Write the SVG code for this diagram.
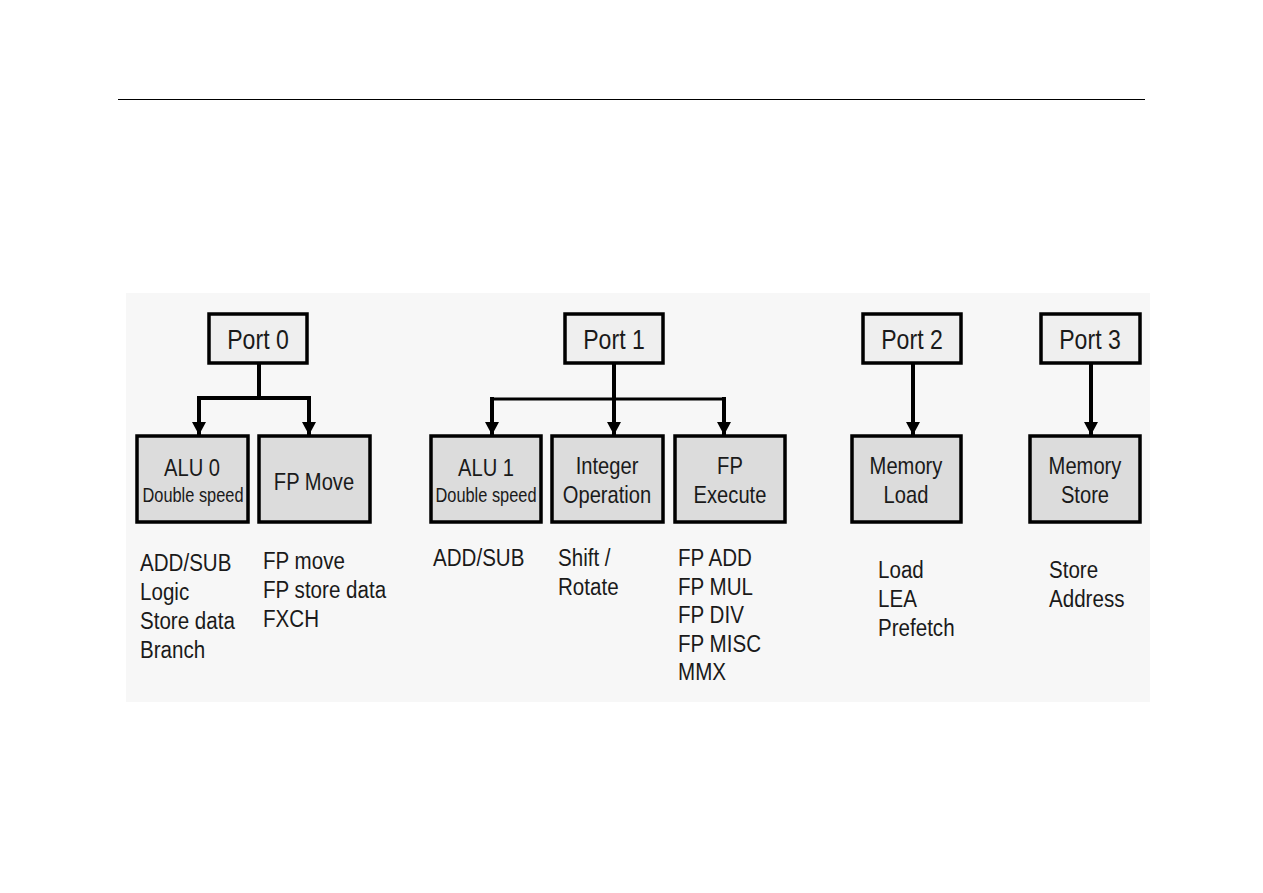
<svg xmlns="http://www.w3.org/2000/svg" width="1263" height="893" viewBox="0 0 1263 893">
<defs>
<style>
.port{fill:#efefef;stroke:#000;stroke-width:3.5}
.unit{fill:#dcdcdc;stroke:#000;stroke-width:3.5}
text{font-family:"Liberation Sans",Arial,sans-serif;fill:#1a1a1a}
.pl{font-size:27.5px;text-anchor:middle}
.ul{font-size:24px;text-anchor:middle}
.us{font-size:19.5px;text-anchor:middle}
.ll{font-size:24.5px}
.c{fill:none;stroke:#000;stroke-width:4}
</style>
<marker id="ah" viewBox="0 0 13 14" refX="13" refY="7" markerWidth="13" markerHeight="14" markerUnits="userSpaceOnUse" orient="auto">
<path d="M0,0 L13,7 L0,14 z" fill="#000"/>
</marker>
</defs>
<rect width="1263" height="893" fill="#fff"/>
<line x1="118" y1="99.5" x2="1145" y2="99.5" stroke="#000" stroke-width="1"/>
<rect x="126" y="293" width="1024" height="409" fill="#f7f7f7"/>

<g id="connectors">
<path class="c" d="M259,362 V398"/>
<path class="c" d="M197,398 H311"/>
<path class="c" d="M199,396 V435" marker-end="url(#ah)"/>
<path class="c" d="M309,396 V435" marker-end="url(#ah)"/>
<path class="c" d="M614,362 V399"/>
<path class="c" d="M490,399 H726" style="stroke-width:3"/>
<path class="c" d="M492,397 V435" marker-end="url(#ah)"/>
<path class="c" d="M614,397 V435" marker-end="url(#ah)"/>
<path class="c" d="M724,397 V435" marker-end="url(#ah)"/>
<path class="c" d="M913,362 V435" marker-end="url(#ah)"/>
<path class="c" d="M1091,362 V435" marker-end="url(#ah)"/>
</g>

<g id="port0"><rect class="port" x="209" y="314" width="98" height="49"/><text class="pl" transform="translate(258 349) scale(0.84 1)">Port 0</text></g>
<g id="port1"><rect class="port" x="565" y="314" width="98" height="49"/><text class="pl" transform="translate(614 349) scale(0.84 1)">Port 1</text></g>
<g id="port2"><rect class="port" x="863" y="314" width="98" height="49"/><text class="pl" transform="translate(912 349) scale(0.84 1)">Port 2</text></g>
<g id="port3"><rect class="port" x="1041" y="314" width="99" height="49"/><text class="pl" transform="translate(1090 349) scale(0.84 1)">Port 3</text></g>

<g id="alu0"><rect class="unit" x="137" y="436" width="111" height="86"/><text class="ul" transform="translate(192 476) scale(0.84 1)">ALU 0</text><text class="us" transform="translate(193 502) scale(0.84 1)">Double speed</text></g>
<g id="fpmove"><rect class="unit" x="259" y="436" width="111" height="86"/><text class="ul" transform="translate(314 490) scale(0.84 1)">FP Move</text></g>
<g id="alu1"><rect class="unit" x="431" y="436" width="110" height="86"/><text class="ul" transform="translate(486 476) scale(0.84 1)">ALU 1</text><text class="us" transform="translate(486 502) scale(0.84 1)">Double speed</text></g>
<g id="intop"><rect class="unit" x="552" y="436" width="111" height="86"/><text class="ul" transform="translate(607 474) scale(0.84 1)">Integer</text><text class="ul" transform="translate(607 503) scale(0.84 1)">Operation</text></g>
<g id="fpexec"><rect class="unit" x="675" y="436" width="110" height="86"/><text class="ul" transform="translate(730 474) scale(0.84 1)">FP</text><text class="ul" transform="translate(730 503) scale(0.84 1)">Execute</text></g>
<g id="memload"><rect class="unit" x="852" y="436" width="109" height="86"/><text class="ul" transform="translate(906 474) scale(0.84 1)">Memory</text><text class="ul" transform="translate(906 503) scale(0.84 1)">Load</text></g>
<g id="memstore"><rect class="unit" x="1030" y="436" width="110" height="86"/><text class="ul" transform="translate(1085 474) scale(0.84 1)">Memory</text><text class="ul" transform="translate(1085 503) scale(0.84 1)">Store</text></g>

<g id="list-alu0" class="ll">
<text class="ll" transform="translate(140 571) scale(0.84 1)">ADD/SUB</text>
<text class="ll" transform="translate(140 600) scale(0.84 1)">Logic</text>
<text class="ll" transform="translate(140 629) scale(0.84 1)">Store data</text>
<text class="ll" transform="translate(140 658) scale(0.84 1)">Branch</text>
</g>
<g id="list-fpmove">
<text class="ll" transform="translate(263 569) scale(0.84 1)">FP move</text>
<text class="ll" transform="translate(263 598) scale(0.84 1)">FP store data</text>
<text class="ll" transform="translate(263 627) scale(0.84 1)">FXCH</text>
</g>
<g id="list-alu1"><text class="ll" transform="translate(433 566) scale(0.84 1)">ADD/SUB</text></g>
<g id="list-intop">
<text class="ll" transform="translate(558 566) scale(0.84 1)">Shift /</text>
<text class="ll" transform="translate(558 595) scale(0.84 1)">Rotate</text>
</g>
<g id="list-fpexec">
<text class="ll" transform="translate(678 566) scale(0.84 1)">FP ADD</text>
<text class="ll" transform="translate(678 594.5) scale(0.84 1)">FP MUL</text>
<text class="ll" transform="translate(678 623) scale(0.84 1)">FP DIV</text>
<text class="ll" transform="translate(678 652) scale(0.84 1)">FP MISC</text>
<text class="ll" transform="translate(678 680) scale(0.84 1)">MMX</text>
</g>
<g id="list-memload">
<text class="ll" transform="translate(878 578) scale(0.84 1)">Load</text>
<text class="ll" transform="translate(878 607) scale(0.84 1)">LEA</text>
<text class="ll" transform="translate(878 636) scale(0.84 1)">Prefetch</text>
</g>
<g id="list-memstore">
<text class="ll" transform="translate(1049 578) scale(0.84 1)">Store</text>
<text class="ll" transform="translate(1049 607) scale(0.84 1)">Address</text>
</g>
</svg>
